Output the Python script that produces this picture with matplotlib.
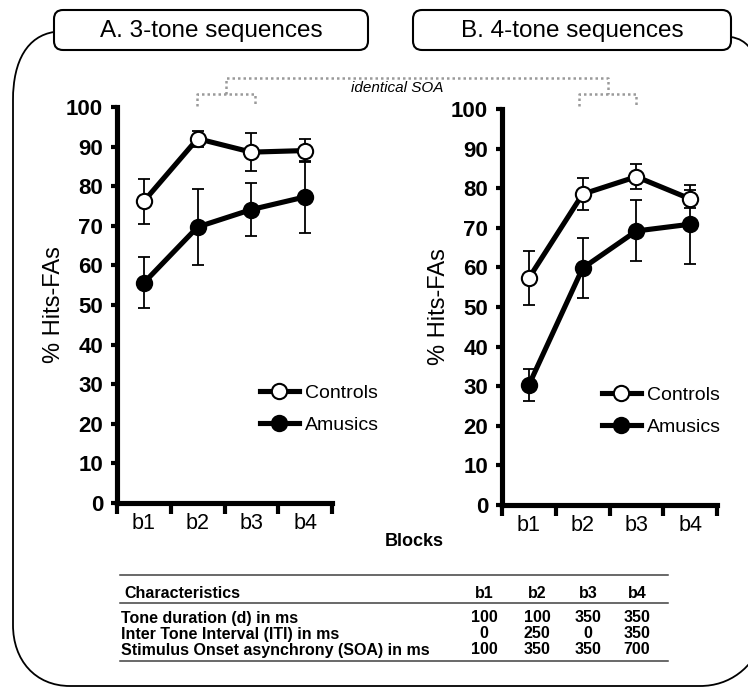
import matplotlib
matplotlib.use('Agg')
import numpy as np
import matplotlib.pyplot as plt
from matplotlib.patches import FancyBboxPatch, PathPatch
from matplotlib.path import Path
from matplotlib.lines import Line2D

plt.rcParams['font.family'] = ['Liberation Sans', 'DejaVu Sans']

# ---------------- data ----------------
blocks = ['b1', 'b2', 'b3', 'b4']

a_controls = [76.2, 92.0, 88.6, 89.0]
a_controls_err = [5.7, 2.0, 4.8, 2.8]
a_amusics = [55.6, 69.7, 74.1, 77.3]
a_amusics_err = [6.4, 9.5, 6.6, 9.1]

b_controls = [57.3, 78.5, 82.9, 77.3]
b_controls_err = [6.8, 4.0, 3.2, 2.3]
b_amusics = [30.3, 59.8, 69.2, 70.9]
b_amusics_err = [4.1, 7.6, 7.7, 10.0]

panel_titles = ['A. 3-tone sequences', 'B. 4-tone sequences']
series_names = ['Controls', 'Amusics']
y_label = '% Hits-FAs'
x_label = 'Blocks'
bracket_label = 'identical SOA'

table_header = ['Characteristics', 'b1', 'b2', 'b3', 'b4']
row_labels = ['Tone duration (d) in ms',
              'Inter Tone Interval (ITI) in ms',
              'Stimulus Onset asynchrony (SOA) in ms']
tone_duration = [100, 100, 350, 350]
inter_tone_interval = [0, 250, 0, 350]
soa = [100, 350, 350, 700]

# ---------------- figure ----------------
W, H = 748, 689
fig = plt.figure(figsize=(W / 100, H / 100), dpi=100)

overlay = fig.add_axes([0, 0, 1, 1], zorder=0)
overlay.set_xlim(0, W)
overlay.set_ylim(H, 0)
overlay.axis('off')


def px_axes(x0, y_top, x1, y_bot):
    return [x0 / W, 1 - y_bot / H, (x1 - x0) / W, (y_bot - y_top) / H]


axA = fig.add_axes(px_axes(117, 107, 332, 503), zorder=2)
axB = fig.add_axes(px_axes(502, 109, 717, 505), zorder=2)

LW = 3.7
MS = 11


def panel(ax, ctrl, ctrl_err, amu, amu_err, legend_anchor):
    x = np.arange(1, len(blocks) + 1)
    ax.set_facecolor('none')
    ax.errorbar(x, ctrl, yerr=ctrl_err, fmt='none', ecolor='black',
                elinewidth=1.3, capsize=4.5, capthick=1.3, zorder=2, clip_on=False)
    ax.errorbar(x, amu, yerr=amu_err, fmt='none', ecolor='black',
                elinewidth=1.3, capsize=4.5, capthick=1.3, zorder=2, clip_on=False)
    ax.plot(x, amu, '-o', color='black', lw=LW, ms=MS, mfc='black', mec='black',
            mew=1.5, zorder=3, clip_on=False)
    ax.plot(x, ctrl, '-o', color='black', lw=LW, ms=MS, mfc='white', mec='black',
            mew=1.5, zorder=4, clip_on=False)
    ax.set_xlim(0.5, 4.5)
    ax.set_ylim(0, 100)
    ax.set_yticks(range(0, 101, 10))
    ax.set_xticks(np.arange(0.5, 4.6, 1.0))
    ax.set_xticklabels([])
    ax.set_xticks(x, minor=True)
    ax.set_xticklabels(blocks, minor=True)
    ax.tick_params(axis='x', which='major', direction='out', length=8, width=3)
    ax.tick_params(axis='x', which='minor', length=0, pad=7, labelsize=15.5)
    ax.tick_params(axis='y', direction='out', length=4, width=3, pad=6, labelsize=16)
    for lab in ax.get_yticklabels():
        lab.set_fontweight('bold')
    for s in ['top', 'right']:
        ax.spines[s].set_visible(False)
    for s in ['left', 'bottom']:
        ax.spines[s].set_linewidth(LW)
    ax.set_ylabel(y_label, fontsize=17, labelpad=1)
    hc = Line2D([], [], color='black', lw=LW, marker='o', ms=MS, mfc='white',
                mec='black', mew=1.5)
    ha = Line2D([], [], color='black', lw=LW, marker='o', ms=MS, mfc='black',
                mec='black', mew=1.5)
    ax.legend(handles=[hc, ha], labels=series_names, loc='upper left',
              bbox_to_anchor=legend_anchor, frameon=False, fontsize=14,
              handlelength=2.0, handletextpad=0.3, labelspacing=0.75,
              borderpad=0, borderaxespad=0)


panel(axA, a_controls, a_controls_err, a_amusics, a_amusics_err, (0.665, 0.30))
panel(axB, b_controls, b_controls_err, b_amusics, b_amusics_err, (0.465, 0.30))

# ---------------- outer frame ----------------
verts = [(54, 32), (28, 36), (13, 60), (13, 100),
         (13, 625),
         (13, 660), (35, 686), (70, 686),
         (700, 686),
         (730, 686), (752, 668), (764, 640),
         (800, 600),
         (800, 120),
         (800, 70), (760, 42), (731, 37)]
codes = [Path.MOVETO, Path.CURVE4, Path.CURVE4, Path.CURVE4,
         Path.LINETO,
         Path.CURVE4, Path.CURVE4, Path.CURVE4,
         Path.LINETO,
         Path.CURVE4, Path.CURVE4, Path.CURVE4,
         Path.LINETO,
         Path.LINETO,
         Path.CURVE4, Path.CURVE4, Path.CURVE4]
overlay.add_patch(PathPatch(Path(verts, codes), fill=False, lw=1.3,
                            edgecolor='black', zorder=1))

# ---------------- title boxes ----------------
for (x0, x1), title in zip([(54, 368), (413, 731)], panel_titles):
    overlay.add_patch(FancyBboxPatch((x0, 10), x1 - x0, 40,
                                     boxstyle='round,pad=0,rounding_size=9',
                                     facecolor='white', edgecolor='black',
                                     lw=1.5, zorder=2))
    overlay.text((x0 + x1) / 2, 31, title, ha='center', va='center',
                 fontsize=17.5, zorder=3)

# ---------------- identical SOA bracket ----------------
bkw = dict(color='#9a9a9a', lw=1.8, ls=(0, (1, 1.2)), zorder=2)
overlay.plot([226, 226, 608, 608], [94, 78, 78, 94], **bkw)
for xl, xr in [(197, 255), (579, 636)]:
    overlay.plot([xl, xl, xr, xr], [106, 94, 94, 106], **bkw)
overlay.text(397, 88, bracket_label, ha='center', va='center',
             fontsize=11, style='italic', zorder=3)

# ---------------- Blocks label ----------------
overlay.text(414, 541, x_label, ha='center', va='center', fontsize=13,
             weight='bold')

# ---------------- table ----------------
tbl_left, tbl_right = 120, 668
col_x = [484, 537, 588, 637]
header_y = 593
row_y = [618, 634, 650]
lkw = dict(color='#404040', lw=1.1)
overlay.plot([tbl_left, tbl_right], [575, 575], **lkw)
overlay.plot([tbl_left, tbl_right], [603, 603], **lkw)
overlay.plot([tbl_left, tbl_right], [661, 661], **lkw)
tkw = dict(va='center', fontsize=11.5, weight='bold')
overlay.text(124, header_y, table_header[0], ha='left', **tkw)
for cx, h in zip(col_x, table_header[1:]):
    overlay.text(cx, header_y, h, ha='center', **tkw)
for ry, lab, vals in zip(row_y, row_labels, [tone_duration, inter_tone_interval, soa]):
    overlay.text(121, ry, lab, ha='left', **tkw)
    for cx, v in zip(col_x, vals):
        overlay.text(cx, ry, str(v), ha='center', **tkw)

fig.savefig('out.png', dpi=100)
